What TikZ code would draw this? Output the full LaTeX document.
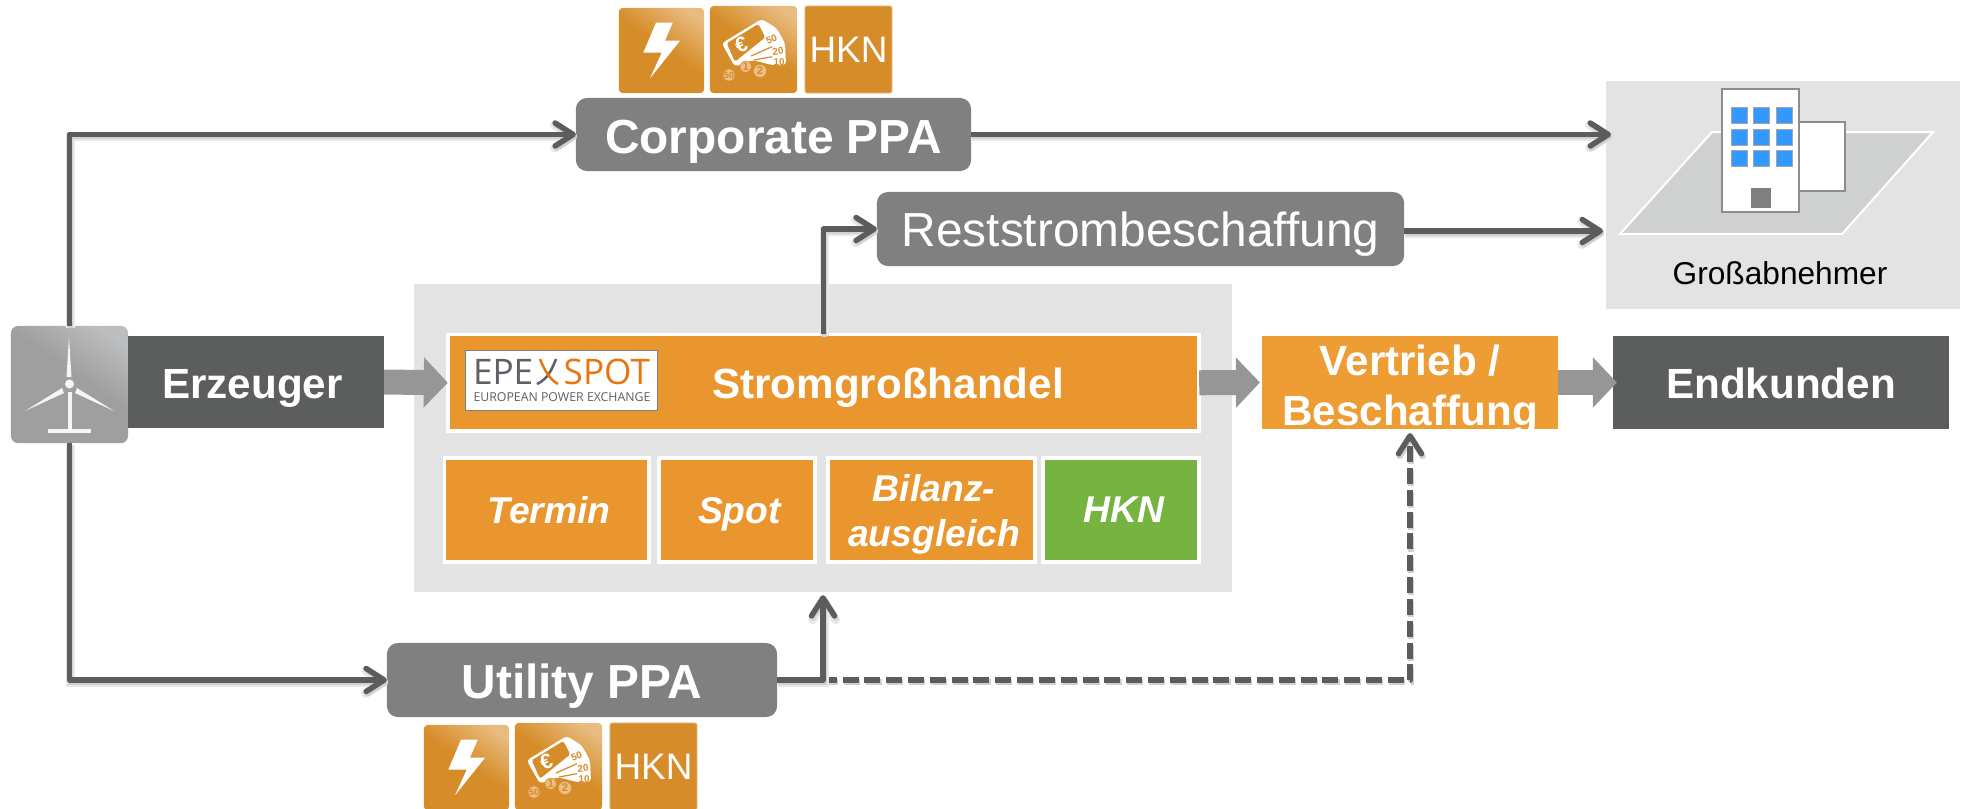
\documentclass[tikz,border=0pt]{standalone}
\usepackage{fontspec}
\setmainfont{Liberation Sans}
\newfontfamily\logofont{Open Sans}
\usetikzlibrary{arrows.meta}

\definecolor{panelgray}{HTML}{E3E3E3}
\definecolor{boxgray}{HTML}{808080}
\definecolor{darkgray}{HTML}{5C5E5D}
\definecolor{linegray}{HTML}{5B5D5C}
\definecolor{blockgray}{HTML}{969696}
\definecolor{marketorange}{HTML}{E9962F}
\definecolor{salesorange}{HTML}{EE9D35}
\definecolor{certgreen}{HTML}{76B340}
\definecolor{iconbase}{HTML}{D68C28}
\definecolor{iconlight}{HTML}{E8BC80}
\definecolor{coincolor}{HTML}{EDBE85}
\definecolor{windbase}{HTML}{9F9F9F}
\definecolor{windlight}{HTML}{BDBEBF}
\definecolor{groundgray}{HTML}{CFD1D0}
\definecolor{windowblue}{HTML}{3399FF}
\definecolor{logogray}{HTML}{5E6066}
\definecolor{logoorange}{HTML}{E8750F}

\pgfdeclareverticalshading{iconshade}{100bp}{color(0bp)=(iconbase); color(52bp)=(iconbase); color(78bp)=(iconlight); color(100bp)=(iconlight)}
\pgfdeclareverticalshading{windshade}{100bp}{color(0bp)=(windbase); color(55bp)=(windbase); color(78bp)=(windlight); color(100bp)=(windlight)}

% text set a little lower in its box
\newcommand{\lowered}[2]{\raisebox{-#1}[\height][0pt]{#2}}

% one icon square, given its top left corner
\newcommand{\bolticon}[2]{
\begin{scope}[shift={(#1)}]
\draw (42.5,42.5) node (#2) [iconbox] {};
\fill[white] (37,14.7) -- (53.7,14.7) -- (46,32.7) -- (61,32.7) -- (31,70.3) -- (42.7,44.7) -- (24.3,44.7) -- cycle;
\end{scope}
}
\newcommand{\billsicon}[2]{
\begin{scope}[shift={(#1)},name prefix=#2]
\draw (43.5,43.5) node (box) [iconbox,minimum size=.87cm] {};
\fill[white,rounded corners=1pt] (11.7,37.3) -- (51.7,13) -- (66.7,22.3) -- (75,37.3) -- (76,59) -- (61.7,59) -- (43,54) -- (25,60.7) -- cycle;
\fill[iconbase,rounded corners=.5pt] (16.7,37.3) -- (48.3,18) -- (55.3,31.3) -- (25,55.7) -- cycle;
\draw[iconbase,line width=.012cm] (41,50) -- (62,40.7);
\draw[iconbase,line width=.012cm] (44,54) -- (62,50.7);
\draw (31,39) node (euro) [rotate=20,text=white,font=\bfseries\fontsize{6}{7}\selectfont] {€};
\draw (61.5,33) node (fifty) [rotate=20,text=iconbase,font=\bfseries\fontsize{2.8}{3}\selectfont] {50};
\draw (68,45) node (twenty) [rotate=6,text=iconbase,font=\bfseries\fontsize{2.8}{3}\selectfont] {20};
\draw (69,56) node (ten) [text=iconbase,font=\bfseries\fontsize{2.8}{3}\selectfont] {10};
\draw[fill=coincolor,draw=iconbase,line width=.006cm] (35.7,60.7) circle (5.7);
\draw[fill=coincolor,draw=iconbase,line width=.006cm] (50,65) circle (6.7);
\fill[coincolor] (19,69) circle (5.7);
\draw (35.7,60.7) node (coinone) [text=iconbase,font=\bfseries\fontsize{3.2}{4}\selectfont] {1};
\draw (50,65) node (cointwo) [text=iconbase,font=\bfseries\fontsize{3.2}{4}\selectfont] {2};
\draw (19,69) node (coinfifty) [text=iconbase,font=\bfseries\fontsize{2.6}{3}\selectfont] {50};
\end{scope}
}

\tikzstyle{every node}=[inner sep=0pt, outer sep=0pt, text depth=0pt]
\tikzstyle{greybox}=[fill=boxgray, rounded corners=.11cm, text=white]
\tikzstyle{darkbox}=[fill=darkgray, text=white, font=\bfseries\fontsize{12}{14.2}\selectfont]
\tikzstyle{tradebox}=[draw=white, line width=.035cm, fill=marketorange, text=white, minimum height=1.04cm, align=center, font=\bfseries\itshape\fontsize{10.6}{12.8}\selectfont]
\tikzstyle{iconbox}=[minimum size=.85cm, rounded corners=.035cm, shading=iconshade, shading angle=-35]
\tikzstyle{hknbox}=[fill=iconbase, draw=iconlight, line width=.008cm, minimum size=.87cm, rounded corners=.02cm, text=white, font=\fontsize{10.5}{12}\selectfont]
\tikzstyle{flowtip}=[draw=linegray, line width=.055cm, line join=round, -{Straight Barb[length=.18cm,width=.23cm,round]}]
\tikzstyle{flowline}=[flowtip,
  preaction={draw=black!9, line width=.09cm, transform canvas={xshift=.012cm,yshift=-.02cm}},
  preaction={draw=black!18, line width=.055cm, transform canvas={xshift=.012cm,yshift=-.022cm}}]
\tikzstyle{flowdash}=[flowtip, dash pattern=on .16cm off .058cm,
  preaction={draw=black!18, line width=.06cm, dash pattern=on .16cm off .058cm, transform canvas={xshift=.012cm,yshift=-.022cm}}]
\tikzstyle{blockarrow}=[draw=blockgray, line width=.25cm, -{Triangle[length=.24cm,width=.49cm]}]

\begin{document}
\begin{tikzpicture}[x=.01cm,y=-.01cm]
\useasboundingbox (0,0) rectangle (1964,808);
\clip (0,0) rectangle (1964,808);

\draw (823,438) node (market) [fill=panelgray,minimum width=8.18cm,minimum height=3.08cm] {};
\draw (1783,195) node (buyer) [fill=panelgray,minimum width=3.54cm,minimum height=2.28cm] {};
\draw (1780,273) node (buyertext) [font=\fontsize{9}{11}\selectfont] {Großabnehmer};

% ground and building
\draw[fill=groundgray,draw=white,line width=.02cm] (1620,234) -- (1842,234) -- (1933,132) -- (1712,132) -- cycle;
\draw[fill=white,draw=boxgray!90,line width=.015cm] (1799,122) rectangle (1845,191);
\draw[fill=white,draw=boxgray!90,line width=.015cm] (1722,89) rectangle (1799,212);
\foreach \wx in {1731,1753,1776}
  \foreach \wy in {107,129,150}
    \draw[fill=windowblue,draw=boxgray!70,line width=.006cm] (\wx,\wy) rectangle +(16.5,16);
\fill[boxgray] (1751,188) rectangle (1771,208);

% boxes
\draw (69.5,384.5) node (wind) [minimum size=1.17cm,rounded corners=.07cm,shading=windshade,shading angle=-35] {};
\draw (256,382) node (erzeuger) [darkbox,minimum width=2.56cm,minimum height=.92cm] {\lowered{.015cm}{Erzeuger\hspace*{.07cm}}};
\draw (773.5,134.5) node (corporate) [greybox,minimum width=3.95cm,minimum height=.73cm,font=\bfseries\fontsize{13.6}{16}\selectfont] {\lowered{.025cm}{Corporate PPA}};
\draw (582,680) node (utility) [greybox,minimum width=3.9cm,minimum height=.74cm,font=\bfseries\fontsize{13.6}{16}\selectfont] {\lowered{.015cm}{Utility PPA}};
\draw (1140.5,229) node (reststrom) [greybox,minimum width=5.27cm,minimum height=.74cm,font=\fontsize{13.6}{16}\selectfont] {Reststrombeschaffung};
\draw (823.5,382.75) node (handel) [draw=white,line width=.035cm,fill=marketorange,minimum width=7.51cm,minimum height=.965cm] {};
\draw (888,383.5) node (handeltext) [text=white,font=\bfseries\fontsize{12}{14}\selectfont] {Stromgroßhandel};
\draw (1410,382.5) node (vertrieb) [fill=salesorange,minimum width=2.96cm,minimum height=.93cm,text=white,align=center,font=\bfseries\fontsize{12}{14.2}\selectfont] {\lowered{.025cm}{Vertrieb /}\\\lowered{.025cm}{Beschaffung}};
\draw (1781,382.5) node (endkunden) [darkbox,minimum width=3.36cm,minimum height=.93cm] {\lowered{.01cm}{Endkunden}};

\draw (546.75,510) node (termin) [tradebox,minimum width=2.045cm] {\hspace*{.05cm}Termin};
\draw (737,510) node (spot) [tradebox,minimum width=1.56cm] {\hspace*{.05cm}Spot};
\draw (931.5,510) node (bilanz) [tradebox,minimum width=2.07cm] {\hspace*{.05cm}Bilanz-\\\hspace*{.05cm}ausgleich};
\draw (1121,510) node (hkntrade) [tradebox,fill=certgreen,minimum width=1.555cm] {\hspace*{.06cm}HKN};

% epex logo
\draw (561.5,380.5) node (logo) [fill=white,draw=boxgray,line width=.013cm,minimum width=1.92cm,minimum height=.6cm] {};
\draw (473,371.5) node (logoepe) [anchor=west,text=logogray,font=\logofont\fontsize{10}{10}\selectfont] {EPE};
\draw (650,371.5) node (logospot) [anchor=east,text=logoorange,font=\logofont\fontsize{10}{10}\selectfont] {SPOT};
\draw (562,397) node (logosub) [text=logogray,font=\logofont\fontsize{3.5}{4}\selectfont] {EUROPEAN POWER EXCHANGE};
\draw[logogray,line width=.025cm] (537,384) .. controls (548,379) and (552,369) .. (556,359);
\draw[logoorange,line width=.025cm] (540,359) .. controls (544,369) and (549,379) .. (558,384);

% turbine
\fill[white!92!gray] (69,337) -- (71.5,377) -- (66.5,377) -- cycle;
\fill[white!92!gray] (25,411) -- (62,388) -- (64,393) -- cycle;
\fill[white!92!gray] (114,411) -- (77,388) -- (75,393) -- cycle;
\fill[white!92!gray] (69.5,384) circle (4.5);
\fill[white!92!gray] (67.5,392) rectangle (71.5,430);
\fill[white!92!gray] (48,429) rectangle (91,433);

% icons
\bolticon{619,8}{corporatebolt}
\billsicon{710,6}{corporatebills}
\draw (848.5,49.5) node (corporatehkn) [hknbox] {HKN};
\bolticon{424,725}{utilitybolt}
\billsicon{515,723}{utilitybills}
\draw (653.5,766.5) node (utilityhkn) [hknbox] {HKN};

% connectors
\coordinate (buyerin) at (1611,134.5);
\coordinate (buyerres) at (1603,231);
\draw[flowline] (wind.north) |- (corporate.west);
\draw[flowline] (wind.south) |- (utility.west);
\draw[flowline] (corporate.east) -- (buyerin);
\draw[flowline] (handel.north) |- (reststrom.west);
\draw[flowline] (reststrom.east |- buyerres) -- (buyerres);
\draw[flowdash,shorten >=.04cm] (utility.east) -| (vertrieb.south);
\draw[flowline,shorten >=.03cm] (utility.east) -| (market.south);

\draw[blockarrow,yshift=-.02cm] (erzeuger.east) -- (handel.west);
\draw[blockarrow,shorten >=.02cm] (handel.east) -- (vertrieb.west);
\draw[blockarrow,yshift=-.02cm,shorten >=-.04cm] (vertrieb.east) -- (endkunden.west);
\end{tikzpicture}
\end{document}
